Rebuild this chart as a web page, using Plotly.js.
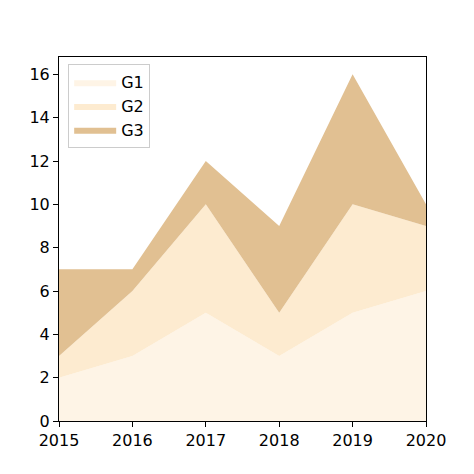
<!DOCTYPE html>
<html><head><meta charset="utf-8">
<script src="https://cdn.plot.ly/plotly-3.0.1.min.js"></script>
<style>html,body{margin:0;padding:0;background:#fff}</style>
</head><body>
<div id="chart" style="width:474px;height:474px"></div>
<script>
const years = [2015, 2016, 2017, 2018, 2019, 2020];
const g1 = [2, 3, 5, 3, 5, 6];
const g2 = [1, 3, 5, 2, 5, 3];
const g3 = [4, 1, 2, 4, 6, 1];
const names = ['G1', 'G2', 'G3'];
const colors = ['#FEF4E6', '#FDEBD0', '#E1C092'];
const series = [g1, g2, g3];

const traces = series.map((v, i) => ({
  type: 'scatter', mode: 'lines', x: years, y: v, name: names[i],
  stackgroup: 'one', line: {width: 0, color: colors[i]}, fillcolor: colors[i]
}));

const axisCommon = {
  showline: true, linecolor: '#000', linewidth: 1, mirror: true,
  ticks: 'outside', ticklen: 5, tickcolor: '#000', showgrid: false, zeroline: false,
  tickfont: {family: 'DejaVu Sans', size: 16, color: '#000'}
};

const layout = {
  width: 474, height: 474,
  margin: {l: 59, r: 48, t: 57, b: 53},
  paper_bgcolor: '#fff', plot_bgcolor: '#fff',
  showlegend: true,
  legend: {x: 0.025, y: 0.98, xanchor: 'left', yanchor: 'top',
    bgcolor: 'rgba(255,255,255,0.8)', bordercolor: '#ccc', borderwidth: 1,
    itemwidth: 42,
    font: {family: 'DejaVu Sans', size: 16, color: '#000'}, traceorder: 'normal'},
  xaxis: Object.assign({}, axisCommon, {range: [2015, 2020], tickvals: years, ticktext: years.map(String)}),
  yaxis: Object.assign({}, axisCommon, {range: [0, 16.8], tickvals: [0, 2, 4, 6, 8, 10, 12, 14, 16]})
};

Plotly.newPlot('chart', traces, layout, {displayModeBar: false, staticPlot: true});
</script>
</body></html>
